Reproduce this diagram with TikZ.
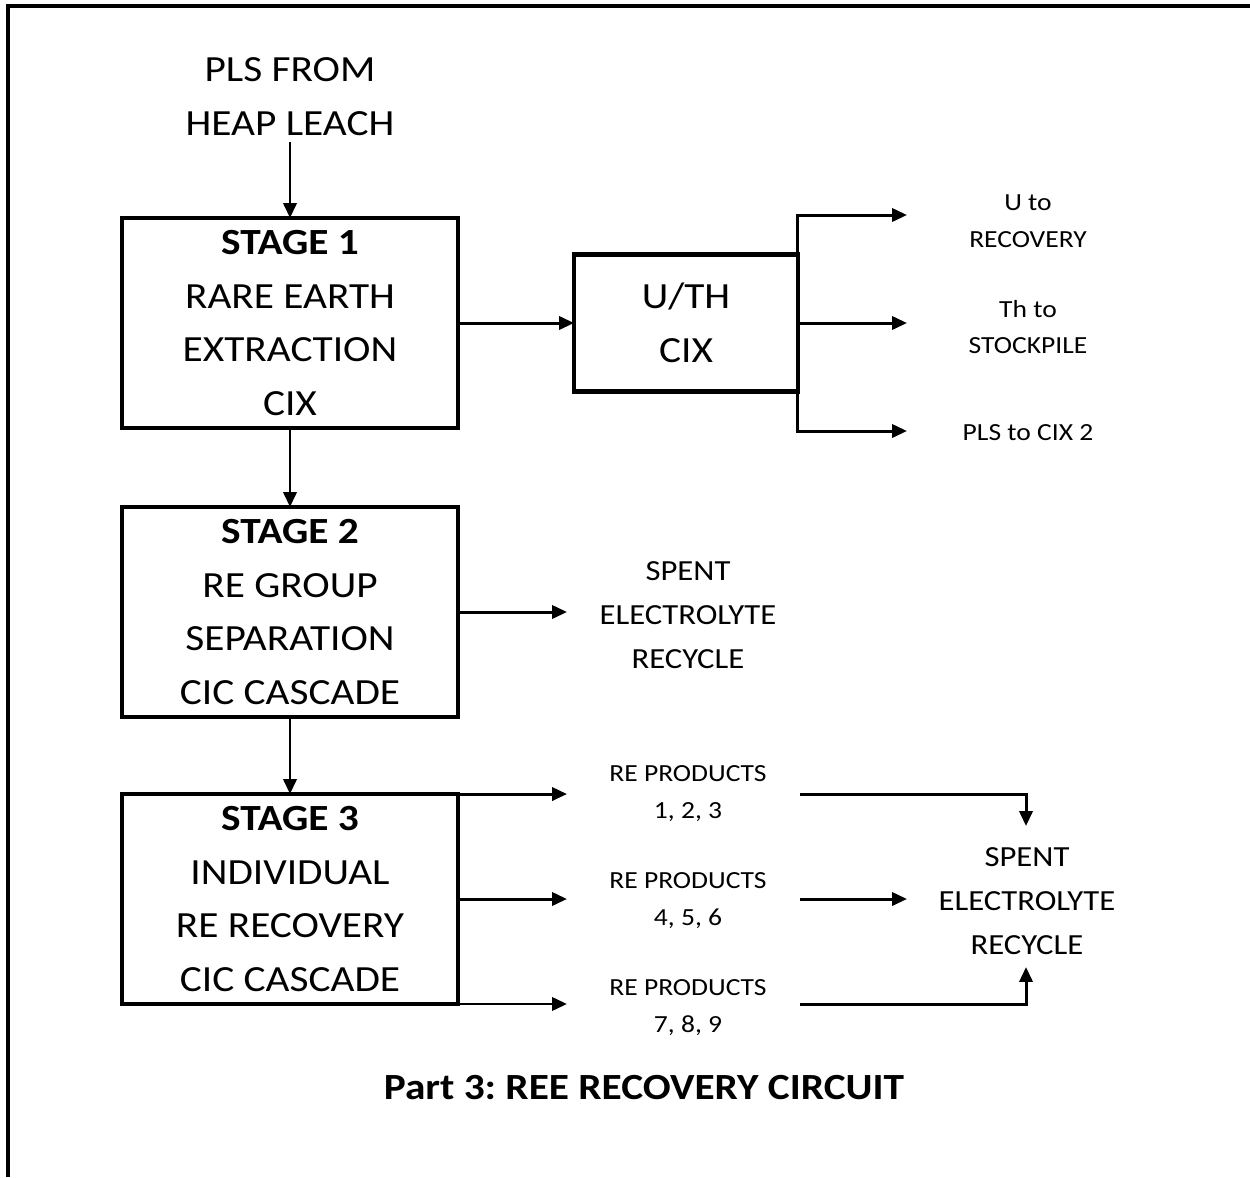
\documentclass[tikz,border=0pt]{standalone}
\usepackage{fontspec}
\setmainfont{Carlito}[FakeStretch=1.12]
\usetikzlibrary{arrows.meta}

\begin{document}
\frenchspacing
\begin{tikzpicture}[x=0.02cm,y=-0.02cm,
    stagebox/.style={draw,line width=2.5pt,outer sep=0pt,minimum width=6.72cm,minimum height=4.2cm,align=center,font=\fontsize{21}{30.6}\selectfont,inner sep=0pt},
    bigtext/.style={align=center,font=\fontsize{21}{30.6}\selectfont},
    midtext/.style={align=center,font=\fontsize{16.6}{25.2}\selectfont},
    smalltext/.style={align=center,font=\fontsize{14}{21}\selectfont},
    flow/.style={line width=1.7pt,-{Triangle[length=8.5pt,width=7.5pt]}}]
      \useasboundingbox (0,0) rectangle (1250,1177);
      \draw[line width=2pt] (8,1177) -- (8,6) -- (1250,6);

      \node[bigtext] (pls) at (290,97) {PLS FROM\\HEAP LEACH};
      \node[stagebox] (s1) at (290,323) {\textbf{STAGE 1}\\RARE EARTH\\EXTRACTION\\CIX};
      \node[stagebox] (s2) at (290,612) {\textbf{STAGE 2}\\RE GROUP\\SEPARATION\\CIC CASCADE};
      \node[stagebox] (s3) at (290,899) {\textbf{STAGE 3}\\INDIVIDUAL\\RE RECOVERY\\CIC CASCADE};
      \node[stagebox,minimum width=4.48cm,minimum height=2.74cm] (uth) at (686,323) {U/TH\\CIX};

      \node[smalltext] (ulbl) at (1028,221) {U to\\RECOVERY};
      \node[smalltext] (thlbl) at (1028,327) {Th to\\STOCKPILE};
      \node[smalltext] (plslbl) at (1028,433) {PLS to CIX 2};
      \node[midtext] (spent1) at (688,615) {SPENT\\ELECTROLYTE\\RECYCLE};
      \node[smalltext] (rp1) at (688,794) {RE PRODUCTS\\1, 2, 3};
      \node[smalltext] (rp2) at (688,901) {RE PRODUCTS\\4, 5, 6};
      \node[smalltext] (rp3) at (688,1008) {RE PRODUCTS\\7, 8, 9};
      \node[midtext] (spent2) at (1027,901) {SPENT\\ELECTROLYTE\\RECYCLE};
      \node[font=\fontsize{21}{30.6}\selectfont\bfseries] (title) at (644,1088) {Part 3: REE RECOVERY CIRCUIT};

      \coordinate (utip) at (907,215);
      \coordinate (thtip) at (907,323);
      \coordinate (plstip) at (907,431);
      \coordinate (sp1tip) at (567,612);
      \coordinate (rp1tip) at (567,792);
      \coordinate (rp2tip) at (567,897);
      \coordinate (rp3tip) at (567,1006);
      \coordinate (rp1out) at (800,794);
      \coordinate (rp2out) at (800,899);
      \coordinate (rp3out) at (800,1004);
      \coordinate (sp2top) at (1026,826);
      \coordinate (sp2bot) at (1026,967);
      \coordinate (sp2left) at (907,899);

      \draw[flow] (pls) -- (s1);
      \draw[flow] (s1) -- (s2);
      \draw[flow] (s2) -- (s3);
      \draw[flow] (s1) -- (uth);
      \draw[flow] (uth.north east) |- (utip);
      \draw[flow] (uth.east) -- (thtip);
      \draw[flow] (uth.south east) |- (plstip);
      \draw[flow] (s2) -- (sp1tip);
      \draw[flow] (s3.north east) -- (s3.north east -| rp1tip);
      \draw[flow] (s3.east) -- (s3.east -| rp2tip);
      \draw[flow] (s3.south east) -- (s3.south east -| rp3tip);
      \draw[flow] (rp1out) -| (sp2top);
      \draw[flow] (rp2out) -- (sp2left);
      \draw[flow] (rp3out) -| (sp2bot);
    \end{tikzpicture}
\end{document}
